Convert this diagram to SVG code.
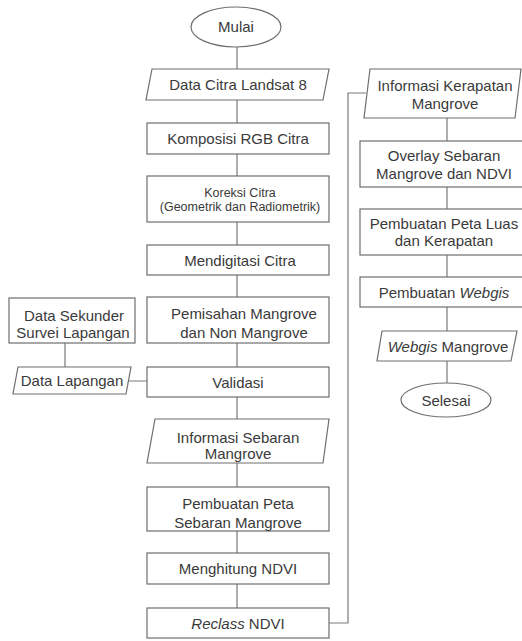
<svg xmlns="http://www.w3.org/2000/svg" width="522" height="641" viewBox="0 0 522 641">
<style>
.s{fill:#fff;stroke:#6e6e6e;stroke-width:1.2}
.c{fill:none;stroke:#7a7a7a;stroke-width:1.2}
text{font-family:"Liberation Sans",Arial,sans-serif;font-size:15px;fill:#3a3a3a;text-anchor:middle}
.sm{font-size:12.5px}
.i{font-style:italic}
</style>
<rect width="522" height="641" fill="#fff"/>
<g id="connectors">
<path class="c" d="M237 47V69M237 100V123M237 154V176M237 222V245M237 275V297M237 343V367M237 397V419M237 463V487M237 531V553M237 584V608"/>
<path class="c" d="M329 623H348V93H366"/>
<path class="c" d="M447 118V141M447 187V209M447 255V277M447 307V331M447 361V383"/>
<path class="c" d="M65 343V367M129 381H147"/>
</g>
<g id="mulai"><ellipse class="s" cx="236" cy="27" rx="45" ry="20"/><text x="236" y="32">Mulai</text></g>
<g id="data-citra"><polygon class="s" points="152,69 329,69 323,100 146,100"/><text x="238" y="90">Data Citra Landsat 8</text></g>
<g id="komposisi"><rect class="s" x="147" y="123" width="182" height="31"/><text x="238" y="144">Komposisi RGB Citra</text></g>
<g id="koreksi"><rect class="s" x="147" y="176" width="182" height="46"/><text class="sm" x="240" y="196.5">Koreksi Citra</text><text class="sm" x="240" y="211">(Geometrik dan Radiometrik)</text></g>
<g id="mendigitasi"><rect class="s" x="147" y="245" width="182" height="30"/><text x="240" y="265.5">Mendigitasi Citra</text></g>
<g id="pemisahan"><rect class="s" x="147" y="297" width="182" height="46"/><text x="244" y="318.5">Pemisahan Mangrove</text><text x="244" y="337.5">dan Non Mangrove</text></g>
<g id="validasi"><rect class="s" x="147" y="367" width="182" height="30"/><text x="238" y="387.5">Validasi</text></g>
<g id="info-sebaran"><polygon class="s" points="155,419 329,419 323,463 147,463"/><text x="238" y="442.5">Informasi Sebaran</text><text x="238" y="459">Mangrove</text></g>
<g id="peta-sebaran"><rect class="s" x="147" y="487" width="182" height="44"/><text x="238" y="508.5">Pembuatan Peta</text><text x="238" y="527.5">Sebaran Mangrove</text></g>
<g id="ndvi"><rect class="s" x="147" y="553" width="182" height="31"/><text x="238" y="574">Menghitung NDVI</text></g>
<g id="reclass"><rect class="s" x="147" y="608" width="182" height="30"/><text x="238" y="628.5"><tspan class="i">Reclass</tspan> NDVI</text></g>
<g id="sekunder"><rect class="s" x="9" y="298" width="126" height="45"/><text x="74" y="320.5">Data Sekunder</text><text x="73" y="337.5">Survei Lapangan</text></g>
<g id="lapangan"><polygon class="s" points="18,367 131,367 126,394 13,394"/><text x="72" y="386">Data Lapangan</text></g>
<g id="info-kerapatan"><polygon class="s" points="370,69 521,69 515,118 364,118"/><text x="445" y="90.5">Informasi Kerapatan</text><text x="445" y="108.5">Mangrove</text></g>
<g id="overlay"><rect class="s" x="360" y="141" width="180" height="46"/><text x="444" y="160.5">Overlay Sebaran</text><text x="444" y="178.5">Mangrove dan NDVI</text></g>
<g id="peta-luas"><rect class="s" x="360" y="209" width="180" height="46"/><text x="444" y="228.5">Pembuatan Peta Luas</text><text x="444" y="245.5">dan Kerapatan</text></g>
<g id="webgis"><rect class="s" x="360" y="277" width="180" height="30"/><text x="444" y="298">Pembuatan <tspan class="i">Webgis</tspan></text></g>
<g id="webgis-mangrove"><polygon class="s" points="382,331 517,331 511,361 377,361"/><text x="448" y="351.5"><tspan class="i">Webgis</tspan> Mangrove</text></g>
<g id="selesai"><ellipse class="s" cx="446" cy="400" rx="45" ry="17"/><text x="446" y="405.5">Selesai</text></g>
</svg>
